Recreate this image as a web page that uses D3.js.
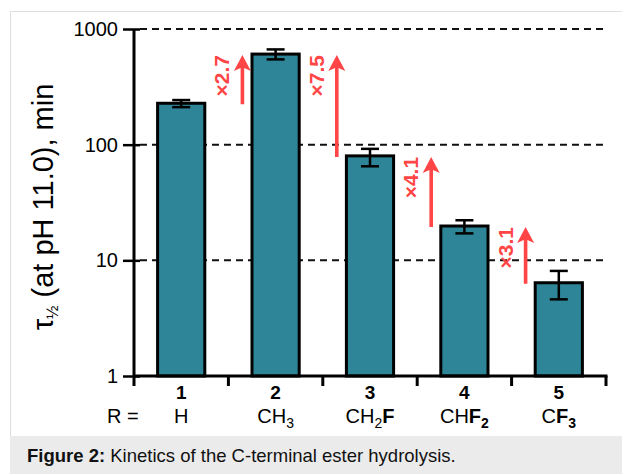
<!DOCTYPE html>
<html>
<head>
<meta charset="utf-8">
<script src="https://cdn.jsdelivr.net/npm/d3@7"></script>
<style>
  html, body { margin: 0; padding: 0; background: #fff; }
  svg { display: block; font-family: "Liberation Sans", Arial, sans-serif; }
</style>
</head>
<body>
<svg id="chart" width="622" height="474"></svg>
<script>
// Compounds and their half-lives (min) at pH 11.0
const compounds = ["1", "2", "3", "4", "5"];
// substituent R: [text, kind] pieces; kind: n = normal, b = bold, s = subscript, bs = bold subscript
const substituents = [
  [["H", "n"]],
  [["CH", "n"], ["3", "s"]],
  [["CH", "n"], ["2", "s"], ["F", "b"]],
  [["CH", "n"], ["F", "b"], ["2", "bs"]],
  [["C", "n"], ["F", "b"], ["3", "bs"]]
];
const halfLife = [228, 607, 80, 19.8, 6.4];
const errLow   = [211, 546, 65, 17.1, 4.6];
const errHigh  = [243, 666, 92, 22.2, 8.1];
const yTicks = [1, 10, 100, 1000];
// fold-change arrows between neighbouring compounds
const folds = [
  { gap: 0, from: 0, to: 1, label: "×2.7" },
  { gap: 1, from: 2, to: 1, label: "×7.5" },
  { gap: 2, from: 3, to: 2, label: "×4.1" },
  { gap: 3, from: 4, to: 3, label: "×3.1" }
];

const svg = d3.select("#chart");
const red = "#ff4545";
const teal = "#2e8598";

// frame and caption strip
svg.append("rect").attr("x", 10.5).attr("y", 11.5).attr("width", 640).attr("height", 470)
  .attr("fill", "#fff").attr("stroke", "#dedede").attr("stroke-width", 1);
svg.append("rect").attr("x", 10).attr("y", 436).attr("width", 612).attr("height", 38)
  .attr("fill", "#ebebeb");
const cap = svg.append("text").attr("x", 27).attr("y", 462).attr("font-size", 18.5).attr("fill", "#111");
cap.append("tspan").attr("font-weight", "bold").text("Figure 2:");
cap.append("tspan").text(" Kinetics of the C-terminal ester hydrolysis.");

const plotL = 134, plotR = 606, plotT = 29, plotB = 376;
const x = d3.scaleBand().domain(compounds).range([plotL, plotR])
  .paddingInner(0.5).paddingOuter(0.25);
const y = d3.scaleLog().domain([1, 1000]).range([plotB, plotT]);
const step = x.step();

// dashed grid
svg.append("g").selectAll("line").data(yTicks.filter(d => d > 1)).join("line")
  .attr("x1", plotL + 6).attr("x2", plotR)
  .attr("y1", d => y(d)).attr("y2", d => y(d))
  .attr("stroke", "#111").attr("stroke-width", 2).attr("stroke-dasharray", "7,5");

// bars
svg.append("g").selectAll("rect").data(halfLife).join("rect")
  .attr("x", (d, i) => x(compounds[i]))
  .attr("y", d => y(d))
  .attr("width", x.bandwidth())
  .attr("height", d => plotB - y(d))
  .attr("fill", teal).attr("stroke", "#000").attr("stroke-width", 3);

// error bars
const eb = svg.append("g").attr("stroke", "#000").attr("stroke-width", 2.5);
halfLife.forEach((d, i) => {
  const cx = x(compounds[i]) + x.bandwidth() / 2;
  eb.append("line").attr("x1", cx).attr("x2", cx).attr("y1", y(errHigh[i])).attr("y2", y(errLow[i]));
  [errHigh[i], errLow[i]].forEach(v => {
    eb.append("line").attr("x1", cx - 9).attr("x2", cx + 9).attr("y1", y(v)).attr("y2", y(v));
  });
});

// y axis
const yAxis = d3.axisLeft(y).tickValues(yTicks).tickFormat(d3.format("d"))
  .tickSizeInner(11).tickSizeOuter(0).tickPadding(5);
const ya = svg.append("g").attr("transform", `translate(${plotL},0)`).call(yAxis);
ya.select(".domain").remove();
ya.selectAll(".tick line").attr("stroke", "#000").attr("stroke-width", 2.5).attr("x2", 6).attr("x1", -11);
ya.selectAll(".tick text").attr("font-size", 20).attr("fill", "#000")
  .attr("font-family", "Liberation Sans, Arial, sans-serif").attr("x", -16);
svg.append("line").attr("x1", plotL).attr("x2", plotL).attr("y1", plotT).attr("y2", plotB + 10)
  .attr("stroke", "#000").attr("stroke-width", 3);

// x axis with ticks at band boundaries
svg.append("line").attr("x1", plotL).attr("x2", plotR + 1.5).attr("y1", plotB).attr("y2", plotB)
  .attr("stroke", "#000").attr("stroke-width", 3);
const bounds = compounds.map((c, i) => x(c) + x.bandwidth() + (step - x.bandwidth()) / 2);
svg.append("g").selectAll("line").data(bounds).join("line")
  .attr("x1", d => d).attr("x2", d => d).attr("y1", plotB).attr("y2", plotB + 10)
  .attr("stroke", "#000").attr("stroke-width", 3);

// category labels
const labG = svg.append("g").attr("fill", "#000");
compounds.forEach((c, i) => {
  const cx = x(c) + x.bandwidth() / 2;
  labG.append("text").attr("x", cx).attr("y", 399).attr("text-anchor", "middle")
    .attr("font-size", 19).attr("font-weight", "bold").text(c);
  const t = labG.append("text").attr("x", cx).attr("y", 423).attr("text-anchor", "middle")
    .attr("font-size", 20);
  let shifted = false;
  substituents[i].forEach(([txt, kind]) => {
    const ts = t.append("tspan").text(txt);
    const sub = kind === "s" || kind === "bs";
    if (kind === "b" || kind === "bs") ts.attr("font-weight", "bold");
    if (sub) { ts.attr("font-size", 14).attr("dy", 5); shifted = true; }
    else if (shifted) { ts.attr("dy", -5); shifted = false; }
  });
});
labG.append("text").attr("x", 107).attr("y", 423).attr("font-size", 20).text("R =");

// y axis title
const yt = svg.append("text").attr("transform", "translate(53,207) rotate(-90)")
  .attr("text-anchor", "middle").attr("font-size", 29).attr("fill", "#000");
yt.append("tspan").text("τ");
yt.append("tspan").attr("font-size", 16).attr("dy", 5).text("½");
yt.append("tspan").attr("dy", -5).text(" (at pH 11.0), min");

// fold-change arrows
const arr = svg.append("g");
folds.forEach(f => {
  const ax = bounds[f.gap] + 14;
  const tip = y(halfLife[f.to]) + 1;
  const base = y(halfLife[f.from]) + 1;
  const hw = 8.5, hh = 16, sw = 1.8;
  arr.append("path")
    .attr("d", `M${ax},${tip} L${ax + hw},${tip + hh} L${ax + sw},${tip + hh - 3} L${ax + sw},${base}
      L${ax - sw},${base} L${ax - sw},${tip + hh - 3} L${ax - hw},${tip + hh} Z`)
    .attr("fill", red);
  arr.append("text").attr("transform", `translate(${ax - 13},${tip}) rotate(-90)`)
    .attr("text-anchor", "end").attr("font-size", 21).attr("font-weight", "bold")
    .attr("fill", red).text(f.label);
});
</script>
</body>
</html>
